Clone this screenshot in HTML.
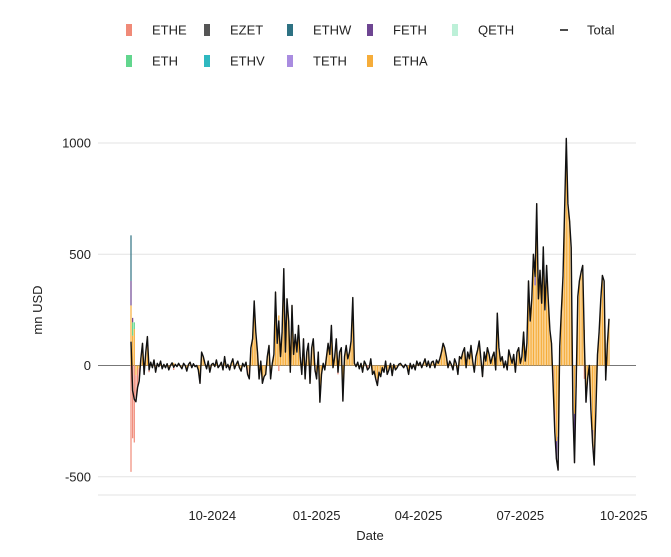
<!DOCTYPE html>
<html><head><meta charset="utf-8"><style>
body{margin:0;background:#fff;font-family:"Liberation Sans",sans-serif}
svg text{font-family:"Liberation Sans",sans-serif;fill:#222}
</style></head><body>
<svg id="chart" width="671" height="552" xmlns="http://www.w3.org/2000/svg">
<g id="legend"></g>
<g id="grid"></g>
<g id="bars"></g>
<g id="line"></g>
<text x="42" y="310" font-size="13" text-anchor="middle" transform="rotate(-90 42 310)">mn USD</text>
<text x="370" y="540" font-size="13" text-anchor="middle">Date</text>
</svg>
<script>
const total=[107,-113,-152,-163,-98,-70,33,100,-40,60,
130,-20,15,-10,25,-30,10,-5,20,-15,
5,-10,8,-20,0,12,-8,5,-5,10,
-3,-15,10,0,-25,5,15,-10,8,-5,
0,-20,-80,60,40,10,-15,20,-30,5,
10,-5,25,-10,0,15,-20,40,-10,5,
-20,10,30,-15,5,20,-10,-25,10,-5,
15,-40,-60,80,120,290,150,60,-60,20,
-80,-50,-40,40,90,-60,10,50,330,100,
200,40,150,435,60,300,200,-30,270,50,
140,60,180,40,-40,120,-60,60,100,-80,
80,120,-20,-60,60,-165,-40,10,-20,40,
100,50,180,-10,40,120,-30,60,80,-160,
40,90,30,60,110,305,10,-5,15,-15,
10,-30,20,5,-20,-10,30,-40,-25,-60,
-90,-30,-50,-10,-30,20,-40,-20,10,-45,
5,-20,-10,5,10,0,-10,5,-5,-40,
10,-15,5,-20,20,0,15,-10,10,30,
-5,20,-10,15,20,-10,25,10,30,60,
100,80,40,-10,20,5,-20,30,10,-40,
40,30,60,80,-10,60,30,90,20,-30,
40,70,110,30,-50,60,20,80,50,10,
40,60,-20,235,80,20,40,-10,20,-20,
70,40,10,50,-30,60,80,10,40,150,
20,100,380,200,300,500,400,727,300,428,
280,533,250,450,300,160,
100,-100,-300,-420,-470,85,
250,400,700,1020,727,650,530,-200,
-437,-100,310,380,420,450,100,-165,-60,0,
-200,-350,-447,-200,50,150,300,405,380,-65,100,210];
const etheFlows={0:-478,1:-327,2:-346,3:-120,4:-80,5:-60,8:-40,11:-30,15:-25,26:-20,42:-40,60:-15,71:-30,85:-40,90:-25,112:-30,126:-40,129:-60,144:-20,150:-30,222:-20,257:-80,258:-100,260:-50,270:-100,276:-60,282:-80,289:-30};
const fethFlows={0:110,1:20,246:40,259:-80,260:-100,265:60,270:-120,277:-40,281:-60,289:-20};
const ethwFlows={0:205,289:-15};
const ethFlows={1:60,2:30,251:30};
const yTicks=[-500,0,500,1000];
const yTickLabels=["-500","0","500","1000"];
const xTickLabels=["10-2024","01-2025","04-2025","07-2025","10-2025"];
const xTickPos=[49.5,113,175,237,300];

const NS="http://www.w3.org/2000/svg";
const n=total.length;
const X=i=>131+i*478/(n-1);
const Y=v=>365.5-v*0.2225;
function mk(tag,attrs,parent){const e=document.createElementNS(NS,tag);for(const k in attrs)e.setAttribute(k,attrs[k]);parent.appendChild(e);return e;}
const grid=document.getElementById('grid');
yTicks.forEach((t,k)=>{
 const l=mk('line',{x1:98,x2:636,y1:Y(t),y2:Y(t),stroke:t===0?'#777':'#e3e3e3','stroke-width':1},grid);
 
 
 const tx=mk('text',{x:91,y:Y(t)+4.5,'font-size':13,'text-anchor':'end'},grid);
 tx.textContent=yTickLabels[k];
 
 
});
const bl=mk('line',{x1:98,x2:636,y1:495,y2:495,stroke:'#e3e3e3'},grid);


xTickLabels.forEach((s,k)=>{
 const tx=mk('text',{x:X(xTickPos[k]),y:520,'font-size':13,'text-anchor':'middle'},grid);
 tx.textContent=s;
 
 
});
const colors={ETHE:'#f08a78',ETHA:'#f6ad3a',FETH:'#6e4592',ETHW:'#2e7283',ETH:'#62d68e'};
const bars=document.getElementById('bars');
for(let i=0;i<n;i++){
 const ethe=etheFlows[i]||0,feth=fethFlows[i]||0,ethw=ethwFlows[i]||0,eth=ethFlows[i]||0;
 const etha=total[i]-ethe-feth-ethw-eth;
 const parts=[['ETHA',etha],['ETH',eth],['FETH',feth],['ETHW',ethw],['ETHE',ethe]];
 let pos=0,neg=0;
 parts.forEach(([nm,v])=>{
  if(!v)return;
  let a,b;
  if(v>0){a=pos;b=pos+v;pos=b;}else{a=neg;b=neg+v;neg=b;}
  const r=mk('rect',{x:X(i)-0.6,width:1.2,y:Math.min(Y(a),Y(b)),height:Math.abs(Y(a)-Y(b)),fill:colors[nm]},bars);
  
  
 });
}
let d='';total.forEach((v,i)=>{d+=(i?'L':'M')+X(i).toFixed(1)+' '+Y(v).toFixed(1);});
const p=mk('path',{d:d,fill:'none',stroke:'#111','stroke-width':1.4,'stroke-linejoin':'round'},document.getElementById('line'));


const leg=document.getElementById('legend');
const entries=[['ETHE','#f08a78',126,30],['EZET','#555555',204,30],['ETHW','#2e7283',287,30],['FETH','#6e4592',367,30],['QETH','#bdf0d8',452,30],
['ETH','#62d68e',126,61],['ETHV','#2fb8c0',204,61],['TETH','#a98ce0',287,61],['ETHA','#f6ad3a',367,61]];
entries.forEach(([nm,c,x,y])=>{
 const g=mk('g',{},leg);
 
 
 mk('rect',{x:x,y:y-6,width:6,height:12,fill:c},g);
 const t=mk('text',{x:x+26,y:y+4.5,'font-size':13},g);t.textContent=nm;
});
const gt=mk('g',{},leg);


mk('line',{x1:560,x2:568,y1:30,y2:30,stroke:'#111','stroke-width':1.5},gt);
const tt=mk('text',{x:587,y:34.5,'font-size':13},gt);tt.textContent='Total';
</script>
</body></html>
